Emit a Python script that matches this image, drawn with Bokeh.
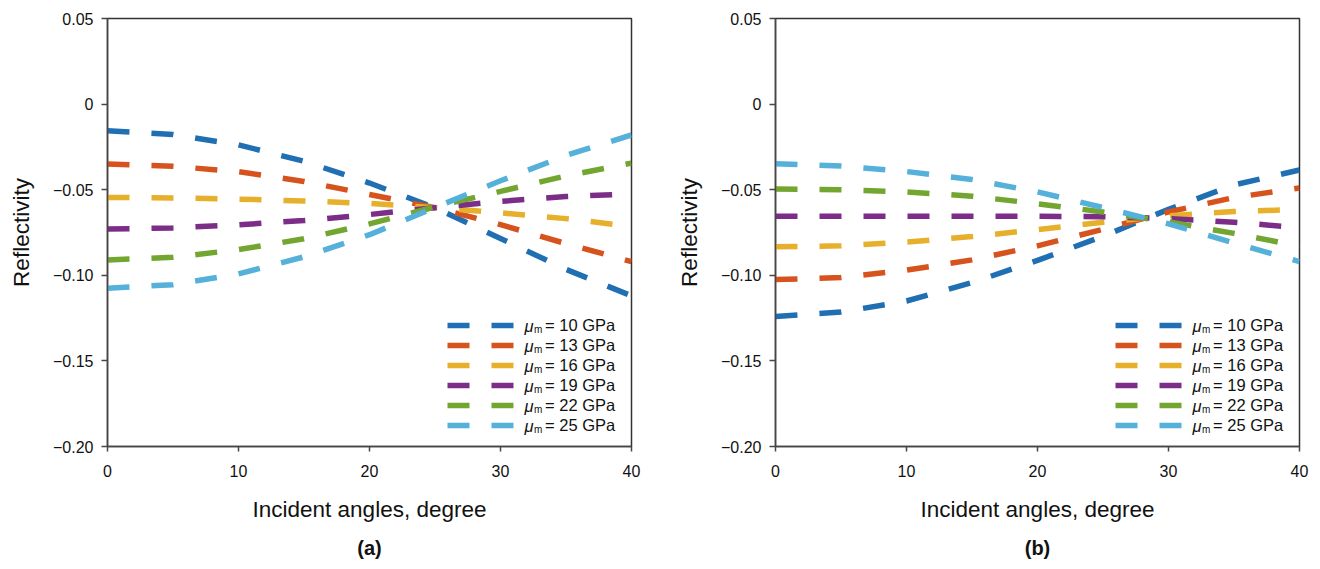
from bokeh.plotting import figure
from bokeh.models import Range1d, FixedTicker, Legend, LegendItem, Label, Title
from bokeh.layouts import row
from bokeh.embed import file_html
from bokeh.resources import INLINE

# ---------------- data ----------------
angles = [0, 5, 10, 15, 20, 25, 30, 35, 40]
moduli = ["10", "13", "16", "19", "22", "25"]
colors = ["#1f6fb2", "#d6531e", "#e6b02c", "#7b2d88", "#72a630", "#55b0da"]

# panel (a)
a_10 = [-0.0155, -0.0178, -0.0238, -0.0334, -0.0461, -0.0605, -0.0785, -0.0965, -0.112]
a_13 = [-0.035, -0.0363, -0.0395, -0.0452, -0.0528, -0.0605, -0.0704, -0.0815, -0.092]
a_16 = [-0.0545, -0.0548, -0.0555, -0.0566, -0.058, -0.0605, -0.0635, -0.0669, -0.0715]
a_19 = [-0.073, -0.0723, -0.0705, -0.068, -0.0645, -0.0605, -0.0568, -0.054, -0.0525]
a_22 = [-0.091, -0.0895, -0.085, -0.0787, -0.070, -0.060, -0.051, -0.0419, -0.0345]
a_25 = [-0.1075, -0.1055, -0.0992, -0.0892, -0.0763, -0.0604, -0.0448, -0.030, -0.018]

# panel (b)
b_10 = [-0.124, -0.1215, -0.115, -0.1043, -0.0913, -0.0772, -0.0615, -0.0472, -0.0385]
b_13 = [-0.1025, -0.1013, -0.097, -0.091, -0.0828, -0.0731, -0.063, -0.0546, -0.049]
b_16 = [-0.0833, -0.0828, -0.0806, -0.0774, -0.0733, -0.069, -0.0652, -0.0627, -0.0616]
b_19 = [-0.0655, -0.0655, -0.0655, -0.0655, -0.0655, -0.0658, -0.0668, -0.069, -0.0722]
b_22 = [-0.0496, -0.050, -0.0513, -0.0538, -0.0582, -0.063, -0.0688, -0.0755, -0.083]
b_25 = [-0.0348, -0.0362, -0.0394, -0.0441, -0.0513, -0.0604, -0.0699, -0.0811, -0.092]

x_ticks = [0, 10, 20, 30, 40]
y_ticks = [0.05, 0, -0.05, -0.1, -0.15, -0.2]
y_tick_labels = {0.05: "0.05", 0: "0", -0.05: "\u22120.05", -0.1: "\u22120.10",
                 -0.15: "\u22120.15", -0.2: "\u22120.20"}

FONT = "Liberation Sans"
AXIS_COLOR = "#4a4446"


def make_panel(series, tag, width, border_right):
    p = figure(width=width, height=568,
               x_range=Range1d(0, 40), y_range=Range1d(-0.2, 0.05),
               output_backend="svg", toolbar_location=None,
               min_border_left=107, min_border_right=border_right,
               min_border_top=18, min_border_bottom=121)
    p.background_fill_color = "white"
    p.border_fill_color = "white"
    p.outline_line_color = "#333333"
    p.outline_line_width = 1.5
    p.xgrid.visible = False
    p.ygrid.visible = False

    renderers = []
    for ys, c in zip(series, colors):
        r = p.line(angles, ys, line_color=c, line_width=5.5,
                   line_dash="22 22", line_cap="butt")
        renderers.append(r)

    for ax in (p.xaxis[0], p.yaxis[0]):
        ax.axis_line_color = AXIS_COLOR
        ax.axis_line_width = 1.5
        ax.major_tick_line_color = AXIS_COLOR
        ax.major_tick_line_width = 1.5
        ax.major_tick_in = 0
        ax.minor_tick_line_color = None
        ax.major_label_text_font = FONT
        ax.major_label_text_font_size = "16px"
        ax.major_label_text_color = "#111111"
        ax.axis_label_text_font = FONT
        ax.axis_label_text_font_size = "22.5px"
        ax.axis_label_text_font_style = "normal"
        ax.axis_label_text_color = "#111111"

    p.xaxis.ticker = FixedTicker(ticks=x_ticks)
    p.xaxis.major_tick_out = 5
    p.xaxis.major_label_standoff = 13
    p.xaxis.axis_label = "Incident angles, degree"
    p.xaxis.axis_label_standoff = 17

    p.yaxis.ticker = FixedTicker(ticks=y_ticks)
    p.yaxis.major_label_overrides = y_tick_labels
    p.yaxis.major_tick_out = 6
    p.yaxis.major_label_standoff = 8
    p.yaxis.axis_label = "Reflectivity"
    p.yaxis.axis_label_standoff = 16

    items = [LegendItem(label="= %s GPa" % m, renderers=[r])
             for m, r in zip(moduli, renderers)]
    legend = Legend(items=items, location=(340, 11), margin=0, padding=0,
                    spacing=0, glyph_width=69, glyph_height=20, label_height=20,
                    label_standoff=29, label_text_font=FONT,
                    label_text_font_size="16.5px", label_text_color="#111111",
                    background_fill_alpha=0, border_line_alpha=0)
    p.add_layout(legend)

    for i in range(len(moduli)):
        yoff = 121 - 20 * i
        p.add_layout(Label(x=40, y=-0.2, x_offset=-107, y_offset=yoff,
                           text="\u03bc", text_font=FONT, text_font_size="16.5px",
                           text_font_style="italic", text_baseline="middle",
                           text_color="#111111"))
        p.add_layout(Label(x=40, y=-0.2, x_offset=-97.5, y_offset=yoff - 4,
                           text="m", text_font=FONT, text_font_size="10px",
                           text_baseline="middle", text_color="#111111"))

    p.add_layout(Title(text=tag, align="center", text_font=FONT,
                       text_font_size="20px", text_font_style="bold",
                       text_color="#111111", standoff=20), "below")
    return p


pa = make_panel([a_10, a_13, a_16, a_19, a_22, a_25], "(a)", 668, 37)
pb = make_panel([b_10, b_13, b_16, b_19, b_22, b_25], "(b)", 645, 14)

layout = row(pa, pb, spacing=0)
open("out.html", "w").write(file_html(layout, INLINE))
